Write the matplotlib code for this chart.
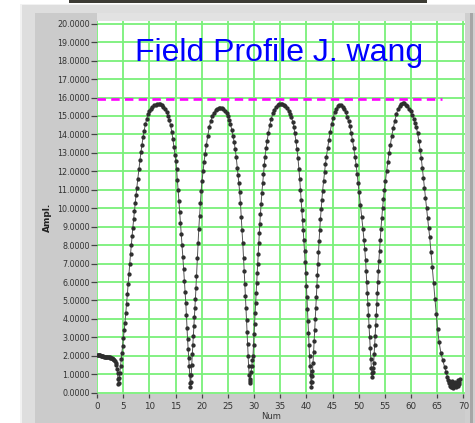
import numpy as np
import matplotlib.pyplot as plt
from matplotlib.patches import Rectangle

# measured field amplitude, (num, ampl) pairs split by lobe
lead = [(0.0, 2.06), (0.15, 2.05), (0.3, 2.04), (0.45, 2.03), (0.6, 2.02), (0.75, 2.0),
        (0.9, 2.01), (1.05, 1.98), (1.2, 1.97), (1.35, 1.96), (1.5, 1.95), (1.65, 1.96),
        (1.8, 1.94), (1.95, 1.93), (2.1, 1.92), (2.25, 1.92), (2.4, 1.91), (2.55, 1.9),
        (2.7, 1.88), (2.85, 1.86), (3.0, 1.83), (3.15, 1.8), (3.3, 1.76), (3.45, 1.7),
        (3.6, 1.6), (3.72, 1.48), (3.84, 1.3), (3.94, 1.05), (4.02, 0.75), (4.08, 0.45)]

lobe_1 = [(4.15, 0.55), (4.25, 0.8), (4.37, 1.05), (4.5, 1.45), (4.62, 1.8), (4.75, 2.15),
          (4.9, 2.55), (5.05, 2.95), (5.2, 3.4), (5.35, 3.8), (5.5, 4.3), (5.65, 4.8),
          (5.8, 5.35), (5.95, 5.9), (6.1, 6.45), (6.25, 7.0), (6.4, 7.5), (6.55, 8.0),
          (6.7, 8.5), (6.85, 8.95), (7.0, 9.4), (7.15, 9.85), (7.3, 10.3), (7.45, 10.7),
          (7.6, 11.1), (7.8, 11.6), (8.0, 12.1), (8.2, 12.6), (8.4, 13.05), (8.6, 13.45),
          (8.8, 13.85), (9.0, 14.2), (9.25, 14.55), (9.5, 14.85), (9.75, 15.1), (10.0, 15.25),
          (10.3, 15.4), (10.6, 15.5), (10.9, 15.57), (11.2, 15.62), (11.5, 15.64), (11.8, 15.65),
          (12.1, 15.63), (12.4, 15.58), (12.7, 15.48), (13.0, 15.36), (13.3, 15.22), (13.55, 15.02),
          (13.8, 14.78), (14.05, 14.5), (14.3, 14.12), (14.5, 13.75), (14.7, 13.3), (14.9, 12.9),
          (15.05, 12.55), (15.2, 12.1), (15.35, 11.55), (15.5, 11.0), (15.65, 10.4), (15.8, 9.8),
          (15.95, 9.2), (16.1, 8.6), (16.25, 8.0), (16.4, 7.35), (16.55, 6.7), (16.7, 6.05),
          (16.85, 5.45), (16.97, 4.85), (17.08, 4.2), (17.2, 3.5), (17.3, 2.9), (17.42, 2.35),
          (17.52, 1.9), (17.62, 1.45), (17.72, 0.95), (17.8, 0.55), (17.86, 0.3)]

lobe_2 = [(17.92, 0.6), (18.0, 0.95), (18.1, 1.5), (18.2, 2.1), (18.3, 2.6), (18.4, 3.1),
          (18.5, 3.6), (18.6, 4.1), (18.7, 4.6), (18.8, 5.1), (18.9, 5.7), (19.0, 6.3),
          (19.15, 7.3), (19.3, 8.1), (19.45, 8.9), (19.6, 9.6), (19.75, 10.3), (19.9, 10.95),
          (20.07, 11.5), (20.25, 12.0), (20.45, 12.5), (20.65, 12.95), (20.9, 13.45), (21.15, 13.9),
          (21.45, 14.4), (21.75, 14.75), (22.05, 15.0), (22.35, 15.18), (22.65, 15.3), (22.95, 15.38),
          (23.25, 15.42), (23.55, 15.43), (23.85, 15.41), (24.15, 15.37), (24.45, 15.29), (24.75, 15.16),
          (25.0, 15.0), (25.25, 14.8), (25.5, 14.55), (25.75, 14.25), (26.0, 13.9), (26.2, 13.6),
          (26.4, 13.2), (26.6, 12.75), (26.8, 12.2), (26.95, 11.8), (27.1, 11.35), (27.25, 10.9),
          (27.4, 10.3), (27.55, 9.5), (27.7, 8.8), (27.85, 8.1), (28.0, 7.3), (28.12, 6.6),
          (28.24, 5.9), (28.35, 5.25), (28.46, 4.6), (28.56, 3.95), (28.66, 3.3), (28.76, 2.65),
          (28.86, 2.0), (28.96, 1.45), (29.06, 0.95), (29.14, 0.65), (29.2, 0.5)]

lobe_3 = [(29.3, 0.75), (29.42, 1.1), (29.55, 1.45), (29.68, 1.75), (29.8, 2.0), (29.9, 2.6),
          (30.0, 3.2), (30.1, 3.75), (30.2, 4.3), (30.3, 4.85), (30.4, 5.4), (30.5, 5.95),
          (30.6, 6.5), (30.7, 7.0), (30.8, 7.5), (30.9, 8.1), (31.0, 8.65), (31.1, 9.15),
          (31.22, 9.7), (31.35, 10.25), (31.5, 10.85), (31.65, 11.35), (31.8, 11.85), (31.95, 12.35),
          (32.1, 12.8), (32.3, 13.25), (32.5, 13.65), (32.75, 14.1), (33.0, 14.5), (33.3, 14.85),
          (33.6, 15.15), (33.9, 15.35), (34.2, 15.5), (34.5, 15.6), (34.8, 15.65), (35.1, 15.67),
          (35.4, 15.66), (35.7, 15.61), (36.0, 15.53), (36.3, 15.42), (36.6, 15.27), (36.9, 15.1),
          (37.15, 14.92), (37.4, 14.68), (37.6, 14.42), (37.8, 14.05), (38.0, 13.65), (38.2, 13.2),
          (38.4, 12.7), (38.57, 12.15), (38.72, 11.6), (38.86, 11.0), (39.0, 10.45), (39.13, 9.9),
          (39.26, 9.35), (39.4, 8.8), (39.52, 8.25), (39.64, 7.7), (39.76, 7.1), (39.88, 6.5),
          (40.0, 5.8), (40.1, 5.2), (40.2, 4.55), (40.3, 3.9), (40.4, 3.25), (40.5, 2.6),
          (40.6, 2.0), (40.7, 1.45), (40.8, 0.95), (40.88, 0.6), (40.95, 0.32)]

lobe_4 = [(41.02, 0.6), (41.08, 0.9), (41.16, 1.2), (41.27, 1.6), (41.38, 2.2), (41.49, 2.8),
          (41.6, 3.4), (41.7, 4.0), (41.8, 4.6), (41.9, 5.2), (42.0, 5.8), (42.1, 6.4),
          (42.2, 7.0), (42.31, 7.6), (42.42, 8.2), (42.54, 8.8), (42.68, 9.4), (42.82, 9.95),
          (42.96, 10.45), (43.1, 10.95), (43.28, 11.45), (43.46, 11.95), (43.64, 12.4), (43.82, 12.8),
          (44.05, 13.25), (44.3, 13.7), (44.55, 14.15), (44.8, 14.55), (45.1, 14.9), (45.4, 15.2),
          (45.7, 15.4), (46.0, 15.52), (46.3, 15.58), (46.6, 15.57), (46.9, 15.5), (47.2, 15.38),
          (47.5, 15.2), (47.8, 14.96), (48.05, 14.7), (48.3, 14.45), (48.55, 14.1), (48.8, 13.7),
          (49.05, 13.25), (49.3, 12.8), (49.5, 12.35), (49.7, 11.85), (49.88, 11.35), (50.05, 10.9),
          (50.3, 10.2), (50.55, 9.55), (50.8, 8.9), (51.0, 8.3), (51.15, 7.8), (51.3, 7.2),
          (51.42, 6.6), (51.53, 6.0), (51.64, 5.4), (51.75, 4.8), (51.86, 4.2), (51.97, 3.6),
          (52.08, 3.0), (52.19, 2.4), (52.3, 1.85), (52.42, 1.35), (52.52, 1.05), (52.6, 0.86)]

lobe_5 = [(52.7, 1.1), (52.78, 1.35), (52.85, 1.6), (52.95, 2.1), (53.05, 2.6), (53.15, 3.1),
          (53.25, 3.65), (53.35, 4.2), (53.45, 4.8), (53.55, 5.4), (53.65, 6.0), (53.75, 6.6),
          (53.85, 7.15), (53.97, 7.7), (54.1, 8.3), (54.25, 8.9), (54.4, 9.45), (54.55, 10.0),
          (54.72, 10.5), (54.9, 11.0), (55.1, 11.5), (55.32, 12.0), (55.55, 12.5), (55.8, 13.0),
          (56.05, 13.45), (56.3, 13.9), (56.6, 14.35), (56.9, 14.75), (57.2, 15.1), (57.5, 15.38),
          (57.8, 15.55), (58.1, 15.66), (58.4, 15.7), (58.7, 15.68), (59.0, 15.62), (59.3, 15.52),
          (59.6, 15.4), (59.9, 15.25), (60.2, 15.07), (60.5, 14.85), (60.75, 14.62), (61.0, 14.38),
          (61.25, 14.05), (61.5, 13.62), (61.75, 13.15), (61.95, 12.7), (62.15, 12.2), (62.35, 11.65),
          (62.55, 11.1), (62.75, 10.55), (62.95, 10.0), (63.15, 9.45), (63.35, 8.95), (63.55, 8.45),
          (63.8, 7.65), (64.05, 6.8), (64.3, 5.95), (64.55, 5.1), (64.8, 4.25), (65.05, 3.45),
          (65.35, 2.75), (65.7, 2.15), (66.05, 1.75), (66.4, 1.4), (66.7, 1.1), (66.95, 0.85)]

tail = [(67.1, 0.7), (67.2, 0.5), (67.3, 0.62), (67.4, 0.35), (67.5, 0.55), (67.6, 0.3),
        (67.7, 0.45), (67.8, 0.65), (67.9, 0.3), (68.0, 0.5), (68.1, 0.28), (68.2, 0.45),
        (68.3, 0.6), (68.4, 0.35), (68.5, 0.5), (68.6, 0.3), (68.7, 0.55), (68.8, 0.4),
        (68.9, 0.7), (69.0, 0.35), (69.1, 0.6), (69.2, 0.45), (69.3, 0.75)]

# max level marker
max_num = [0.0, 66.0]
max_ampl = [15.93, 15.93]

x_ticks = list(range(0, 71, 5))
y_ticks = list(range(0, 21))

profile = np.array(lead + lobe_1 + lobe_2 + lobe_3 + lobe_4 + lobe_5 + tail)

W, H = 475, 423
fig = plt.figure(figsize=(W / 100, H / 100), dpi=100)
fig.patch.set_facecolor('white')


def px_rect(x, y, w, h, color):
    # rectangle given in pixels from the top-left corner
    fig.add_artist(Rectangle((x / W, 1 - (y + h) / H), w / W, h / H,
                             transform=fig.transFigure, facecolor=color,
                             edgecolor='none', zorder=-5))


px_rect(69, 0, 358, 3, '#3d3c35')
px_rect(20, 4, 455, 419, '#f2f2f2')
px_rect(22, 5, 453, 418, '#dedede')
px_rect(35, 13, 430, 410, '#cbcbcb')
px_rect(97, 13, 368, 9, '#e2e2e2')
px_rect(465, 13, 10, 410, '#cfcfcf')
px_rect(470, 13, 3, 410, '#a6a6a6')

ax = fig.add_axes([97 / W, (H - 394) / H, (465 - 97) / W, (394 - 21.5) / H])
ax.set_facecolor('white')
ax.set_xlim(0, 70.3)
ax.set_ylim(-0.07, 20.12)
for s in ax.spines.values():
    s.set_visible(False)

ax.set_xticks(x_ticks)
ax.set_yticks(y_ticks)
ax.set_yticklabels([f'{v:.4f}' for v in y_ticks])
ax.grid(True, color='#7af07a', lw=1.3)
ax.set_axisbelow(True)
ax.tick_params(axis='y', direction='out', length=4, width=0.9, color='#444444',
               labelsize=5.8, labelcolor='#333333', pad=1)
ax.tick_params(axis='x', direction='out', length=3, width=0.9, color='#444444',
               labelsize=6.3, labelcolor='#333333', pad=3)

ax.plot(max_num, max_ampl, color='#ff00ff', lw=1.9, dashes=(3.2, 2.0), zorder=3)
ax.plot(profile[:, 0], profile[:, 1], color='#555555', lw=0.7,
        marker='o', ms=2.1, mfc='#2e2e2e', mec='#2e2e2e', zorder=4)

ax.text(7.2, 18.0, 'Field Profile J. wang', color='#0000ff', fontsize=23,
        family='Liberation Sans', ha='left', va='baseline', zorder=5)

fig.text(47.5 / W, 1 - 217.5 / H, 'Ampl.', rotation=90, fontsize=6.5,
         fontweight='bold', ha='center', va='center', color='#222222')
fig.text(271.5 / W, 1 - 416.5 / H, 'Num', fontsize=6, ha='center', va='center',
         color='#333333')

fig.savefig('out.png', dpi=100)
